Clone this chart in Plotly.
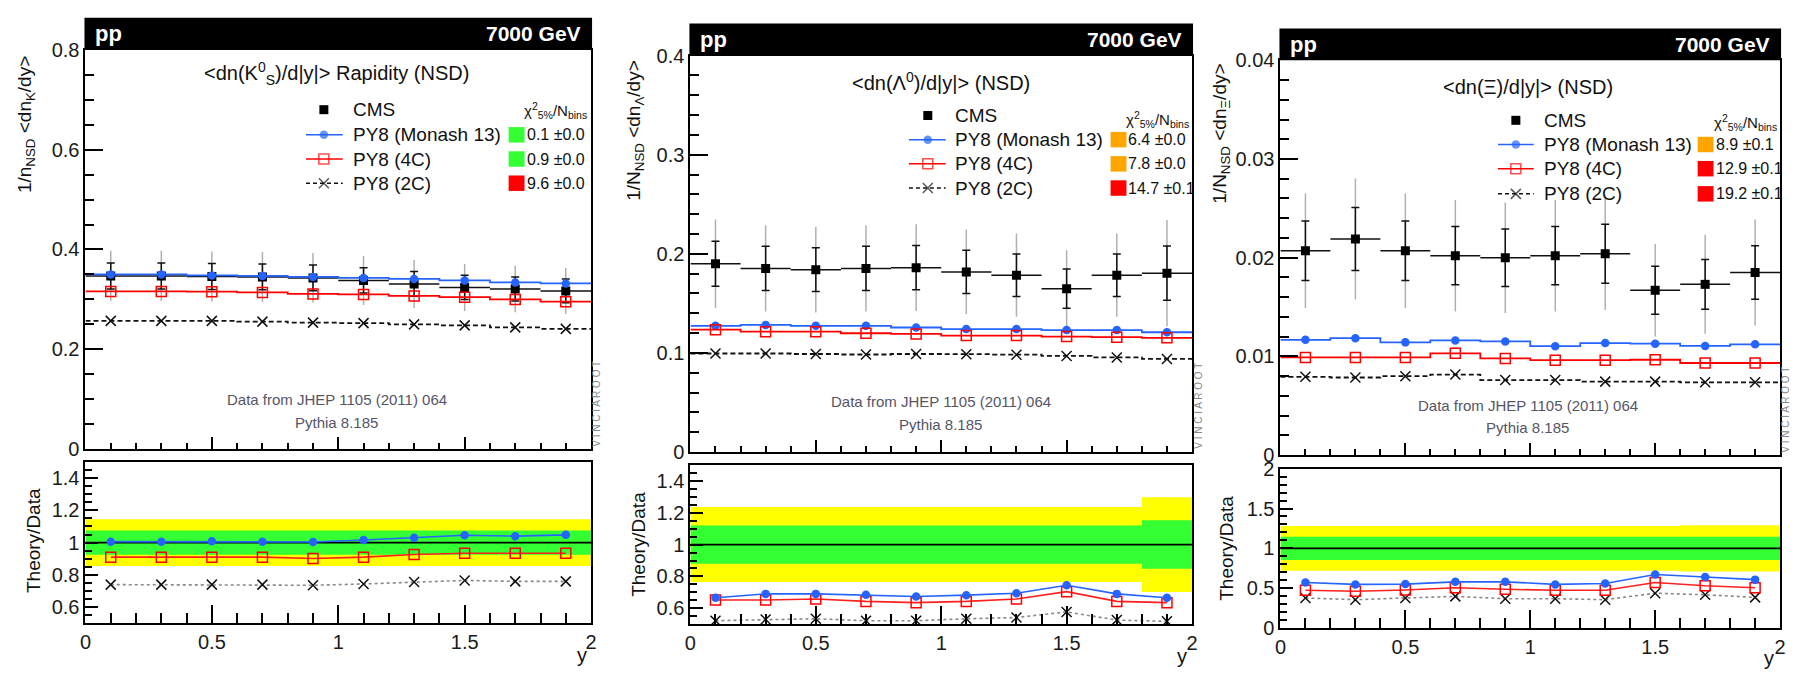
import plotly.graph_objects as go

W, H = 1799, 676
FONT = "Liberation Sans, Arial, sans-serif"

# ---------------- data ----------------
y_edges = [0.0, 0.2, 0.4, 0.6, 0.8, 1.0, 1.2, 1.4, 1.6, 1.8, 2.0]
y_centers = [0.1, 0.3, 0.5, 0.7, 0.9, 1.1, 1.3, 1.5, 1.7, 1.9]

series_names = ["PY8 (Monash 13)", "PY8 (4C)", "PY8 (2C)"]

# K0S
k_cms = [0.347, 0.347, 0.346, 0.345, 0.343, 0.338, 0.331, 0.324, 0.321, 0.317]
k_rel_in = [0.075, 0.075, 0.075, 0.075, 0.075, 0.075, 0.075, 0.075, 0.075, 0.075]
k_rel_out = [0.145, 0.145, 0.145, 0.145, 0.145, 0.145, 0.145, 0.145, 0.145, 0.145]
k_monash = [0.350, 0.350, 0.348, 0.347, 0.345, 0.343, 0.341, 0.338, 0.334, 0.332]
k_4c = [0.316, 0.316, 0.3155, 0.314, 0.311, 0.310, 0.307, 0.3045, 0.300, 0.2955]
k_2c = [0.257, 0.257, 0.257, 0.2555, 0.2535, 0.2525, 0.250, 0.248, 0.244, 0.241]
k_r_monash = [1.006, 1.006, 1.008, 1.006, 1.004, 1.016, 1.030, 1.046, 1.040, 1.048]
k_r_4c = [0.910, 0.910, 0.910, 0.910, 0.902, 0.910, 0.926, 0.934, 0.934, 0.934]
k_r_2c = [0.740, 0.740, 0.740, 0.740, 0.736, 0.744, 0.756, 0.766, 0.760, 0.760]
k_chi2 = ["0.1 ±0.0", "0.9 ±0.0", "9.6 ±0.0"]
k_chi2_col = ["#33ff33", "#33ff33", "#ff0000"]

# Lambda
l_cms = [0.190, 0.1853, 0.184, 0.1853, 0.186, 0.1818, 0.1785, 0.1648, 0.1785, 0.1805]
l_rel_in = [0.12, 0.12, 0.12, 0.12, 0.12, 0.12, 0.12, 0.12, 0.12, 0.152]
l_rel_out = [0.235, 0.235, 0.235, 0.235, 0.235, 0.235, 0.235, 0.235, 0.235, 0.297]
l_monash = [0.1274, 0.1283, 0.1274, 0.1274, 0.1257, 0.1241, 0.1241, 0.1231, 0.1231, 0.1209]
l_4c = [0.1235, 0.1215, 0.1215, 0.1199, 0.1192, 0.1176, 0.1176, 0.1166, 0.1160, 0.1153]
l_2c = [0.0995, 0.0995, 0.0990, 0.0985, 0.0990, 0.0988, 0.0983, 0.0970, 0.0955, 0.0940]
l_r_monash = [0.667, 0.691, 0.691, 0.685, 0.675, 0.683, 0.695, 0.745, 0.691, 0.667]
l_r_4c = [0.653, 0.653, 0.659, 0.644, 0.636, 0.644, 0.659, 0.705, 0.644, 0.636]
l_r_2c = [0.523, 0.531, 0.535, 0.523, 0.523, 0.535, 0.543, 0.578, 0.527, 0.519]
l_chi2 = ["6.4 ±0.0", "7.8 ±0.0", "14.7 ±0.1"]
l_chi2_col = ["#ffa500", "#ffa500", "#ff0000"]

# Xi
x_cms = [0.0207, 0.0219, 0.0207, 0.0202, 0.0200, 0.0202, 0.0204, 0.0167, 0.0173, 0.0185]
x_rel_in = [0.146, 0.146, 0.146, 0.146, 0.146, 0.146, 0.146, 0.146, 0.146, 0.146]
x_rel_out = [0.28, 0.28, 0.28, 0.28, 0.28, 0.28, 0.28, 0.28, 0.29, 0.29]
x_monash = [0.01168, 0.01184, 0.01142, 0.01162, 0.01152, 0.01103, 0.01135, 0.01129, 0.01106, 0.01122]
x_4c = [0.00989, 0.00989, 0.00989, 0.01031, 0.00979, 0.00962, 0.00962, 0.00966, 0.00933, 0.00933]
x_2c = [0.00793, 0.00786, 0.00799, 0.00816, 0.00760, 0.00760, 0.00744, 0.00744, 0.00737, 0.00737]
x_r_monash = [0.573, 0.549, 0.553, 0.581, 0.581, 0.549, 0.561, 0.674, 0.642, 0.609]
x_r_4c = [0.476, 0.464, 0.480, 0.508, 0.488, 0.476, 0.476, 0.573, 0.532, 0.508]
x_r_2c = [0.379, 0.358, 0.379, 0.399, 0.370, 0.370, 0.358, 0.439, 0.419, 0.387]
x_chi2 = ["8.9 ±0.1", "12.9 ±0.1", "19.2 ±0.1"]
x_chi2_col = ["#ffa500", "#ff0000", "#ff0000"]

panels = [
    dict(cms=k_cms, rin=k_rel_in, rout=k_rel_out, mc=[k_monash, k_4c, k_2c],
         ratio=[k_r_monash, k_r_4c, k_r_2c], chi2=k_chi2, chi2col=k_chi2_col,
         title="&lt;dn(K<sup>0</sup><sub>S</sub>)/d|y|&gt; Rapidity (NSD)",
         ytitle="1/n<sub>NSD</sub> &lt;dn<sub>K</sub>/dy&gt;",
         yrange=[0, 0.8], dtick=0.2, minor=0.05, rrange=[0.5, 1.5], rdtick=0.2, rminor=0.05),
    dict(cms=l_cms, rin=l_rel_in, rout=l_rel_out, mc=[l_monash, l_4c, l_2c],
         ratio=[l_r_monash, l_r_4c, l_r_2c], chi2=l_chi2, chi2col=l_chi2_col,
         title="&lt;dn(Λ<sup>0</sup>)/d|y|&gt; (NSD)",
         ytitle="1/N<sub>NSD</sub> &lt;dn<sub>Λ</sub>/dy&gt;",
         yrange=[0, 0.4], dtick=0.1, minor=0.02, rrange=[0.5, 1.5], rdtick=0.2, rminor=0.05),
    dict(cms=x_cms, rin=x_rel_in, rout=x_rel_out, mc=[x_monash, x_4c, x_2c],
         ratio=[x_r_monash, x_r_4c, x_r_2c], chi2=x_chi2, chi2col=x_chi2_col,
         title="&lt;dn(Ξ)/d|y|&gt; (NSD)",
         ytitle="1/N<sub>NSD</sub> &lt;dn<sub>Ξ</sub>/dy&gt;",
         yrange=[0, 0.04], dtick=0.01, minor=0.002, rrange=[0, 2], rdtick=0.5, rminor=0.1),
]

# ---------------- layout geometry (pixels) ----------------
geom = [
    dict(left=80, right=589, head=7, top=40, bottom=453, rtop=466, rbot=633,
         ytx=20, yty=117, rtx=27, rty=547, tx=333, ty=65,
         leg_mx=320, leg_tx=347, leg_l0=302, leg_l1=339, leg_y=[102, 128, 153, 178],
         box_x=506, chi_hx=553, chi_hy=103, dx=333, dy=402, vx=595, vy=406, ylx=587, yly=666),
    dict(left=689, right=1194, head=13, top=46, bottom=456, rtop=469, rbot=634,
         ytx=633, yty=123, rtx=636, rty=551, tx=941, ty=73,
         leg_mx=928, leg_tx=953, leg_l0=909, leg_l1=946, leg_y=[108, 133, 158, 183],
         box_x=1112, chi_hx=1159, chi_hy=112, dx=941, dy=404, vx=1201, vy=408, ylx=1191, yly=667),
    dict(left=1283, right=1786, head=18, top=51, bottom=459, rtop=473, rbot=638,
         ytx=1223, yty=127, rtx=1229, rty=555, tx=1532, ty=79,
         leg_mx=1520, leg_tx=1546, leg_l0=1502, leg_l1=1538, leg_y=[113, 138, 163, 189],
         box_x=1703, chi_hx=1751, chi_hy=115, dx=1532, dy=408, vx=1792, vy=412, ylx=1782, yly=669),
]

colors = ["#2564ff", "#ff0000", "#111111"]
rcolors = ["#2564ff", "#ff2020", "#888888"]
symbols = ["circle", "square-open", "x-thin-open"]
msizes = [7, 10, 10]
dashes = ["solid", "solid", "5px,3px"]
rdashes = ["solid", "solid", "dot"]


def fx(px):
    return px / W


def fy(py):
    return 1 - py / H


def axid(n):
    return "" if n == 1 else str(n)


fig = go.Figure()
layout = dict(width=W, height=H, autosize=False, margin=dict(l=0, r=0, t=0, b=0, pad=0),
              paper_bgcolor="white", plot_bgcolor="rgba(0,0,0,0)", showlegend=False,
              font=dict(family=FONT, color="#111111"))
annotations = []
shapes = []


def ext(v):
    return list(v) + [v[-1]]


for i, (p, g) in enumerate(zip(panels, geom)):
    nt = 2 * i + 1
    nr = 2 * i + 2
    xt, yt = "x" + axid(nt), "y" + axid(nt)
    xr, yr = "x" + axid(nr), "y" + axid(nr)
    common_x = dict(domain=[fx(g["left"]), fx(g["right"])], range=[0, 2], tickmode="linear",
                    tick0=0, dtick=0.5, ticks="inside", tickcolor="black",
                    tickwidth=1.5, showline=True, linewidth=2, linecolor="black", mirror=True,
                    showgrid=False, zeroline=False, tickfont=dict(size=20, family=FONT, color="#1a1a1a"))
    layout["xaxis" + axid(nt)] = dict(common_x, anchor=yt, showticklabels=False, ticklen=12,
                                      minor=dict(dtick=0.1, ticks="inside", ticklen=6,
                                                 tickcolor="black", tickwidth=1.5))
    layout["xaxis" + axid(nr)] = dict(common_x, anchor=yr, showticklabels=True, ticklen=18,
                                      minor=dict(dtick=0.1, ticks="inside", ticklen=10,
                                                 tickcolor="black", tickwidth=1.5))
    common_y = dict(ticks="inside", tickcolor="black", tickwidth=1.5, showline=True, linewidth=2,
                    linecolor="black", mirror=True, showgrid=False, zeroline=False,
                    tickmode="linear", tick0=0,
                    tickfont=dict(size=20, family=FONT, color="#1a1a1a"))
    layout["yaxis" + axid(nt)] = dict(common_y, anchor=xt, domain=[fy(g["bottom"]), fy(g["top"])],
                                      range=p["yrange"], dtick=p["dtick"], ticklen=18,
                                      minor=dict(dtick=p["minor"], ticks="inside", ticklen=9,
                                                 tickcolor="black", tickwidth=1.5))
    layout["yaxis" + axid(nr)] = dict(common_y, anchor=xr, domain=[fy(g["rbot"]), fy(g["rtop"])],
                                      range=p["rrange"], dtick=p["rdtick"], ticklen=13,
                                      minor=dict(dtick=p["rminor"], ticks="inside", ticklen=7,
                                                 tickcolor="black", tickwidth=1.5))

    cms = p["cms"]
    err_in = [v * r for v, r in zip(cms, p["rin"])]
    err_out = [v * r for v, r in zip(cms, p["rout"])]

    # ---- top panel ----
    fig.add_trace(go.Scatter(x=y_centers, y=cms, mode="markers", xaxis=xt, yaxis=yt,
                             marker=dict(size=2, color="rgba(0,0,0,0)"),
                             error_y=dict(type="data", array=err_out, color="#b0b0b0",
                                          thickness=1.5, width=0)))
    fig.add_trace(go.Scatter(x=y_centers, y=cms, mode="markers", xaxis=xt, yaxis=yt,
                             marker=dict(symbol="square", size=9, color="black"),
                             error_y=dict(type="data", array=err_in, color="#111111",
                                          thickness=1.5, width=4),
                             error_x=dict(type="constant", value=0.1, color="#111111",
                                          thickness=1.5, width=0)))
    for k in range(3):
        vals = p["mc"][k]
        fig.add_trace(go.Scatter(x=y_edges, y=ext(vals), mode="lines", line_shape="hv",
                                 xaxis=xt, yaxis=yt,
                                 line=dict(color=colors[k], width=1.8, dash=dashes[k])))
        fig.add_trace(go.Scatter(x=y_centers, y=vals, mode="markers", xaxis=xt, yaxis=yt,
                                 marker=dict(symbol=symbols[k], size=msizes[k], color=colors[k],
                                             line=dict(width=1.5, color=colors[k]))))

    # ---- ratio panel ----
    lo_o = [1 - r for r in p["rout"]]
    hi_o = [1 + r for r in p["rout"]]
    lo_i = [1 - r for r in p["rin"]]
    hi_i = [1 + r for r in p["rin"]]
    fig.add_trace(go.Scatter(x=y_edges, y=ext(lo_o), mode="lines", line_shape="hv",
                             line=dict(width=0, color="#ffff00"), xaxis=xr, yaxis=yr))
    fig.add_trace(go.Scatter(x=y_edges, y=ext(hi_o), mode="lines", line_shape="hv", fill="tonexty",
                             fillcolor="#ffff00", line=dict(width=0, color="#ffff00"),
                             xaxis=xr, yaxis=yr))
    fig.add_trace(go.Scatter(x=y_edges, y=ext(lo_i), mode="lines", line_shape="hv",
                             line=dict(width=0, color="#33ff33"), xaxis=xr, yaxis=yr))
    fig.add_trace(go.Scatter(x=y_edges, y=ext(hi_i), mode="lines", line_shape="hv", fill="tonexty",
                             fillcolor="#33ff33", line=dict(width=0, color="#33ff33"),
                             xaxis=xr, yaxis=yr))
    fig.add_trace(go.Scatter(x=[0, 2], y=[1, 1], mode="lines", line=dict(color="black", width=1.8),
                             xaxis=xr, yaxis=yr))
    for k in [2, 1, 0]:
        fig.add_trace(go.Scatter(x=y_centers, y=p["ratio"][k], mode="lines+markers",
                                 xaxis=xr, yaxis=yr,
                                 line=dict(color=rcolors[k], width=1.6, dash=rdashes[k]),
                                 marker=dict(symbol=symbols[k], size=msizes[k], color=colors[k],
                                             line=dict(width=1.5, color=colors[k]))))

    # ---- header ----
    shapes.append(dict(type="rect", xref="paper", yref="paper", x0=fx(g["left"] - 1),
                       x1=fx(g["right"] + 1), y0=fy(g["top"]), y1=fy(g["head"]),
                       fillcolor="black", line=dict(width=0), layer="above"))
    hy = fy((g["head"] + g["top"]) / 2)
    annotations.append(dict(text="<b>pp</b>", x=fx(g["left"] + 8), y=hy, xanchor="left",
                            yanchor="middle", font=dict(size=22, color="white", family=FONT)))
    annotations.append(dict(text="<b>7000 GeV</b>", x=fx(g["right"] - 8), y=hy, xanchor="right",
                            yanchor="middle", font=dict(size=21, color="white", family=FONT)))
    # ---- titles ----
    annotations.append(dict(text=p["title"], x=fx(g["tx"]), y=fy(g["ty"]), xanchor="center",
                            yanchor="middle", font=dict(size=20, family=FONT, color="#111111")))
    annotations.append(dict(text=p["ytitle"], x=fx(g["ytx"]), y=fy(g["yty"]), xanchor="center",
                            yanchor="middle", textangle=-90,
                            font=dict(size=19, family=FONT, color="#111111")))
    annotations.append(dict(text="Theory/Data", x=fx(g["rtx"]), y=fy(g["rty"]), xanchor="center",
                            yanchor="middle", textangle=-90,
                            font=dict(size=19, family=FONT, color="#111111")))
    annotations.append(dict(text="y", x=fx(g["ylx"]), y=fy(g["yly"]), xanchor="right",
                            yanchor="middle", font=dict(size=20, family=FONT, color="#111111")))
    annotations.append(dict(text="Data from JHEP 1105 (2011) 064", x=fx(g["dx"]), y=fy(g["dy"]),
                            xanchor="center", yanchor="middle",
                            font=dict(size=15, family=FONT, color="#555566")))
    annotations.append(dict(text="Pythia 8.185", x=fx(g["dx"]), y=fy(g["dy"] + 23),
                            xanchor="center", yanchor="middle",
                            font=dict(size=15, family=FONT, color="#555566")))
    annotations.append(dict(text="V I N C I A R O O T", x=fx(g["vx"]), y=fy(g["vy"]),
                            xanchor="center", yanchor="middle", textangle=-90,
                            font=dict(size=10, family=FONT, color="#888888")))
    # ---- legend ----
    ly = g["leg_y"]
    fig.add_trace(go.Scatter(x=[g["leg_mx"]], y=[ly[0]], mode="markers", xaxis="x7", yaxis="y7",
                             marker=dict(symbol="square", size=9, color="black")))
    annotations.append(dict(text="CMS", x=fx(g["leg_tx"]), y=fy(ly[0]), xanchor="left",
                            yanchor="middle", font=dict(size=19, family=FONT, color="#111111")))
    annotations.append(dict(text="χ<sup>2</sup><sub>5%</sub>/N<sub>bins</sub>", x=fx(g["chi_hx"]),
                            y=fy(g["chi_hy"]), xanchor="center", yanchor="middle",
                            font=dict(size=15, family=FONT, color="#111111")))
    for k in range(3):
        yy = ly[k + 1]
        fig.add_trace(go.Scatter(x=[g["leg_l0"], g["leg_mx"], g["leg_l1"]], y=[yy, yy, yy],
                                 mode="lines+markers", xaxis="x7", yaxis="y7",
                                 line=dict(color=colors[k], width=1.5,
                                           dash="4px,3px" if k == 2 else "solid"),
                                 marker=dict(symbol=symbols[k], size=[0, msizes[k], 0],
                                             color=colors[k], line=dict(width=1.5, color=colors[k]))))
        annotations.append(dict(text=series_names[k], x=fx(g["leg_tx"]), y=fy(yy), xanchor="left",
                                yanchor="middle", font=dict(size=19, family=FONT, color="#111111")))
        shapes.append(dict(type="rect", xref="paper", yref="paper", x0=fx(g["box_x"]),
                           x1=fx(g["box_x"] + 16), y0=fy(yy + 8), y1=fy(yy - 8),
                           fillcolor=p["chi2col"][k], line=dict(width=0)))
        annotations.append(dict(text=p["chi2"][k], x=fx(g["box_x"] + 16), y=fy(yy), xanchor="left",
                                yanchor="middle", font=dict(size=16, family=FONT, color="#111111")))

layout["xaxis7"] = dict(domain=[0, 1], range=[0, W], visible=False, anchor="y7", fixedrange=True)
layout["yaxis7"] = dict(domain=[0, 1], range=[H, 0], visible=False, anchor="x7", fixedrange=True)
for a in annotations:
    a.setdefault("xref", "paper")
    a.setdefault("yref", "paper")
    a.setdefault("showarrow", False)
layout["annotations"] = annotations
layout["shapes"] = shapes
fig.update_layout(**layout)
fig.write_html("out.html")
